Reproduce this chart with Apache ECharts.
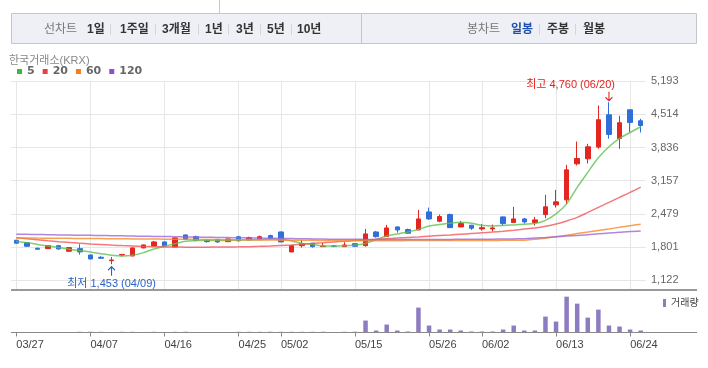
<!DOCTYPE html>
<html><head><meta charset="utf-8">
<script src="https://cdn.jsdelivr.net/npm/echarts@6/dist/echarts.min.js"></script>
<style>html,body{margin:0;padding:0;background:#fff}#c{width:708px;height:368px}</style>
</head><body><div id="c"></div>
<script>
const dates = ['03/27','03/28','03/31','04/01','04/02','04/03','04/04','04/07','04/08','04/09','04/10','04/11','04/14','04/15','04/16','04/17','04/18','04/21','04/22','04/23','04/24','04/25','04/28','04/29','04/30','05/02','05/07','05/08','05/09','05/12','05/13','05/14','05/15','05/16','05/19','05/20','05/21','05/22','05/23','05/26','05/27','05/28','05/29','05/30','06/02','06/04','06/05','06/09','06/10','06/11','06/12','06/13','06/16','06/17','06/18','06/19','06/20','06/23','06/24','06/25'];
const opens = [1943,1894,1779,1771,1832,1718,1771,1642,1595,1526,1640,1622,1786,1826,1908,1806,2051,2016,1935,1955,1914,2014,1949,1969,2037,2112,1704,1832,1882,1812,1826,1812,1873,1832,2112,2016,2215,2160,2153,2521,2331,2467,2215,2249,2174,2174,2419,2303,2378,2303,2467,2665,2767,3503,3605,3844,4504,4020,4606,4381];
const closes = [1882,1820,1759,1832,1765,1792,1704,1561,1575,1540,1653,1786,1847,1908,1826,1990,1963,1943,1914,1908,1969,1932,1996,2016,1984,1908,1832,1873,1812,1826,1820,1847,1820,2072,2016,2194,2153,2086,2378,2378,2426,2200,2282,2188,2200,2194,2282,2378,2317,2358,2624,2726,3380,3611,3850,4402,4102,4341,4347,4285];
const lows = [1873,1812,1751,1765,1751,1710,1649,1554,1561,1453,1609,1616,1779,1812,1820,1800,1955,1922,1894,1888,1908,1914,1943,1949,1955,1902,1697,1792,1792,1812,1800,1812,1812,1812,1996,2016,2098,2078,2147,2358,2310,2194,2208,2153,2139,2119,2235,2303,2283,2242,2392,2610,2679,3468,3509,3809,4014,3809,4151,4142];
const highs = [1949,1902,1792,1841,1847,1800,1861,1649,1616,1602,1663,1792,1853,1929,1922,2010,2057,2037,1963,1969,1976,2031,2016,2037,2057,2119,1841,1949,1888,1894,1847,1902,1882,2174,2133,2256,2221,2180,2562,2609,2467,2487,2337,2256,2276,2262,2426,2623,2399,2419,2869,2971,3482,3958,3911,4694,4760,4484,4606,4422];
const volumes = [3000,2500,3000,2000,3500,3000,7000,7500,7000,3500,7000,7000,3000,7000,3500,7000,7500,3000,2500,3000,3500,7000,7000,7000,7500,7000,7000,7000,7000,7500,3500,7000,8000,120000,20000,80000,20000,10000,250000,70000,30000,30000,20000,10000,10000,10000,30000,70000,20000,20000,160000,110000,360000,290000,150000,230000,70000,60000,30000,20000];
const ma5 = [1919,1894,1857,1827,1796,1759,1731,1704,1669,1636,1622,1636,1690,1765,1820,1873,1922,1935,1943,1935,1939,1943,1949,1955,1963,1963,1929,1878,1857,1827,1827,1832,1847,1878,1959,2031,2072,2112,2164,2235,2266,2290,2311,2290,2249,2235,2242,2256,2270,2283,2348,2481,2685,3022,3329,3625,3850,4020,4142,4259];
const ma20 = [1994,1974,1953,1933,1914,1898,1882,1867,1855,1843,1833,1825,1816,1810,1806,1804,1802,1802,1802,1804,1806,1808,1812,1818,1827,1837,1847,1859,1876,1892,1908,1922,1937,1949,1961,1974,1986,1998,2010,2025,2039,2051,2065,2080,2094,2109,2127,2147,2170,2194,2229,2276,2337,2409,2511,2613,2716,2818,2920,3028];
const ma60 = [1990,1988,1986,1985,1983,1981,1979,1978,1976,1974,1972,1970,1969,1967,1965,1963,1961,1960,1958,1956,1954,1953,1951,1949,1947,1945,1944,1942,1940,1938,1937,1935,1935,1934,1934,1934,1934,1935,1935,1935,1936,1936,1937,1937,1938,1939,1940,1941,1943,1962,1982,2015,2045,2078,2110,2143,2174,2206,2239,2270];
const ma120 = [2066,2063,2059,2056,2052,2049,2045,2042,2039,2035,2032,2028,2025,2021,2018,2015,2011,2008,2004,2001,1997,1994,1990,1987,1984,1980,1977,1973,1970,1966,1963,1962,1961,1960,1960,1959,1959,1959,1959,1959,1960,1960,1961,1962,1963,1965,1967,1970,1974,1986,1998,2013,2027,2041,2055,2074,2090,2106,2123,2133];
const yTicks = [1122,1801,2479,3157,3836,4514,5193];
const xTickLabels = ['03/27','04/07','04/16','04/25','05/02','05/15','05/26','06/02','06/13','06/24'];
const maNames = ['5','20','60','120'];
const periodTabs = ['1일','1주일','3개월','1년','3년','5년','10년'];
const candleTabs = ['일봉','주봉','월봉'];

const LFONT = "'Liberation Sans','Noto Sans CJK KR',sans-serif";
const UP = '#e3261f', DOWN = '#2f6fdc';
const fmt = v => v.toLocaleString('en-US');
const showTick = (i, v) => xTickLabels.indexOf(v) >= 0;

const hiIdx = highs.indexOf(Math.max(...highs));
const loIdx = lows.indexOf(Math.min(...lows));

const ARROW_DOWN = 'path://M3.5,0 L3.5,9 M0.5,5.5 L3.5,9 L6.5,5.5';
const ARROW_UP = 'path://M3.5,9 L3.5,0 M0.5,3.5 L3.5,0 L6.5,3.5';

// tab bar decoration
const g = [];
g.push({type:'line', shape:{x1:219.5,y1:0,x2:219.5,y2:13}, style:{stroke:'#c6c9cf',lineWidth:1}, silent:true});
g.push({type:'rect', shape:{x:11.5,y:13.5,width:685,height:30}, style:{fill:'#eef0f5',stroke:'#c3c6cc',lineWidth:1}, silent:true});
g.push({type:'line', shape:{x1:361.5,y1:13.5,x2:361.5,y2:43.5}, style:{stroke:'#c3c6cc',lineWidth:1}, silent:true});
const tabText = (x, t, color, bold) => ({type:'text', x:x, y:29.5, silent:true,
  style:{text:t, fill:color, font:(bold?'bold ':'')+"12px 'Liberation Sans','Noto Sans CJK KR',sans-serif", textVerticalAlign:'middle', verticalAlign:'middle'}});
const sep = x => ({type:'line', shape:{x1:x,y1:24,x2:x,y2:35}, style:{stroke:'#d3d5da',lineWidth:1}, silent:true});
g.push(tabText(44,'선차트','#777',false));
const pX = [87,120,162,205,236,267,297];
const pSep = [110.5,155.5,198.5,228.5,260.5,291.5];
periodTabs.forEach((t,i)=>g.push(tabText(pX[i],t,'#333',true)));
pSep.forEach(x=>g.push(sep(x)));
g.push(tabText(467,'봉차트','#777',false));
const cX = [511,547,583];
candleTabs.forEach((t,i)=>g.push(tabText(cX[i],t,i===0?'#1d4fae':'#333',true)));
[539.5,575.5].forEach(x=>g.push(sep(x)));
// panel separators
g.push({type:'line', shape:{x1:11,y1:290,x2:697,y2:290}, style:{stroke:'#777',lineWidth:1.5}, silent:true, z:10});
g.push({type:'line', shape:{x1:11,y1:332.5,x2:697,y2:332.5}, style:{stroke:'#8a8a8a',lineWidth:1}, silent:true, z:10});

const maColors = ['#3cb83c','#e84040','#f77d1a','#8e4fcf'];
const maLine = ['#62c04e','#f0585a','#f48a2a','#9d68d6'];
const maData = [ma5, ma20, ma60, ma120];

const chart = echarts.init(document.getElementById('c'), null, {renderer:'canvas'});
const option = {
  animation: false,
  backgroundColor: '#fff',
  title: {text:'한국거래소(KRX)', left:9, top:55, padding:0,
    textStyle:{fontSize:11, fontWeight:'normal', color:'#888', fontFamily:LFONT}},
  legend: [
    {data: maNames, left:17, top:66, padding:0, icon:'rect', itemWidth:5, itemHeight:5, itemGap:8, selectedMode:false,
      textStyle:{fontSize:11, fontWeight:'bold', color:'#666', fontFamily:'DejaVu Sans'}},
    {data: ['거래량'], left:663, top:298, padding:0, icon:'rect', itemWidth:3, itemHeight:8, selectedMode:false,
      textStyle:{fontSize:10, color:'#444', fontFamily:LFONT}}
  ],
  grid: [
    {left:11, right:62, top:81, bottom:78, outerBoundsMode:'none', containLabel:false},
    {left:11, right:62, top:290, bottom:35.5, outerBoundsMode:'none', containLabel:false}
  ],
  xAxis: [
    {type:'category', data:dates, gridIndex:0, boundaryGap:true,
      axisLine:{show:false}, axisTick:{show:false, interval:showTick, alignWithLabel:true}, axisLabel:{show:false, interval:showTick},
      splitLine:{show:true, interval:showTick, alignWithLabel:true, lineStyle:{color:'#e6e6e6', width:1}}},
    {type:'category', data:dates, gridIndex:1, boundaryGap:true,
      axisLine:{show:false},
      axisTick:{show:true, interval:showTick, alignWithLabel:true, length:4, lineStyle:{color:'#888'}},
      axisLabel:{show:true, interval:showTick, align:'left', margin:7, fontSize:11, color:'#444', fontFamily:LFONT, hideOverlap:false},
      splitLine:{show:false}}
  ],
  yAxis: [
    {type:'value', gridIndex:0, position:'right', min:927, max:5193, scale:true,
      axisLine:{show:false}, axisTick:{show:false, customValues:yTicks},
      axisLabel:{show:true, customValues:yTicks, margin:5, fontSize:11, color:'#666', fontFamily:LFONT, formatter:v=>fmt(v), hideOverlap:false},
      splitLine:{show:true, lineStyle:{color:'#e6e6e6', width:1}}},
    {type:'value', gridIndex:1, min:0, max:427000, show:false, splitLine:{show:false}}
  ],
  series: [
    {name:'일봉', type:'candlestick', xAxisIndex:0, yAxisIndex:0, barWidth:5,
      data: dates.map((d,i)=>[opens[i], closes[i], lows[i], highs[i]]),
      itemStyle:{color:UP, color0:DOWN, borderColor:UP, borderColor0:DOWN, borderWidth:1},
      z:2,
      markPoint:{
        animation:false,
        data:[
          {name:'최고', coord:[dates[hiIdx], highs[hiIdx]], symbol:ARROW_DOWN, symbolSize:[7,9], symbolOffset:[0,-6],
            itemStyle:{color:'rgba(0,0,0,0)', borderColor:'#e0231e', borderWidth:1.2},
            label:{show:true, formatter:'최고 '+fmt(highs[hiIdx])+' ('+dates[hiIdx]+')', position:[10,-6], align:'right', verticalAlign:'middle',
              color:'#e0231e', fontSize:11, fontFamily:LFONT}},
          {name:'최저', coord:[dates[loIdx], lows[loIdx]], symbol:ARROW_UP, symbolSize:[7,9], symbolOffset:[0,7],
            itemStyle:{color:'rgba(0,0,0,0)', borderColor:'#2a62c9', borderWidth:1.2},
            label:{show:true, formatter:'최저 '+fmt(lows[loIdx])+' ('+dates[loIdx]+')', position:'bottom', distance:2,
              color:'#2a62c9', fontSize:11, fontFamily:LFONT}}
        ]
      }
    },
    ...maNames.map((n,k)=>({name:n, type:'line', xAxisIndex:0, yAxisIndex:0, data:maData[k], smooth:0.3, symbol:'none',
      color:maColors[k], itemStyle:{color:maColors[k]}, lineStyle:{width:1.5, color:maLine[k], opacity:0.8}, z:3, silent:true})),
    {name:'거래량', type:'bar', xAxisIndex:1, yAxisIndex:1, data:volumes, barWidth:4.5, itemStyle:{color:'#8e7cc3'}, color:'#8e7cc3'}
  ],
  graphic: g
};
chart.setOption(option);
</script>
</body></html>
